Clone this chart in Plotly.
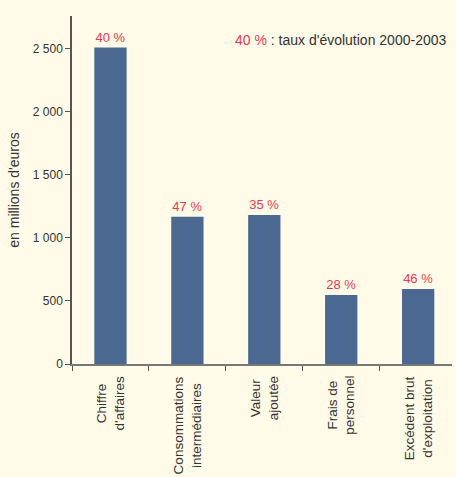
import plotly.graph_objects as go

categories = ["Chiffre d'affaires", "Consommations intermédiaires", "Valeur ajoutée",
              "Frais de personnel", "Excédent brut d'exploitation"]
cat_labels = ["Chiffre<br>d'affaires", "Consommations<br>intermédiaires", "Valeur<br>ajoutée",
              "Frais de<br>personnel", "Excédent brut<br>d'exploitation"]
values = [2510, 1168, 1182, 547, 595]
rates = ["40 %", "47 %", "35 %", "28 %", "46 %"]
ytickvals = [0, 500, 1000, 1500, 2000, 2500]
yticktext = ["0", "500", "1 000", "1 500", "2 000", "2 500"]

BG = "#fffbe8"
BAR = "#4a6890"
RED = "#e8384f"
DARK = "#333333"
FONT = "Arial, Liberation Sans, sans-serif"

fig = go.Figure(go.Bar(
    x=categories, y=values, text=rates, textposition="outside",
    textfont=dict(color=RED, size=13, family=FONT),
    marker=dict(color=BAR, line=dict(width=0)),
    cliponaxis=False, width=0.42,
))

fig.update_layout(
    width=456, height=477,
    margin=dict(l=72, r=4, t=16, b=113),
    paper_bgcolor=BG, plot_bgcolor=BG,
    font=dict(family=FONT, size=12, color=DARK),
    showlegend=False,
)
fig.update_xaxes(
    type="category", range=[-0.5, 4.44],
    tickson="boundaries", ticks="outside", ticklen=5, tickcolor="#555",
    showticklabels=False, showline=True, linecolor="#777", linewidth=1.5,
    showgrid=False,
)
fig.update_yaxes(
    range=[0, 2760], tickvals=ytickvals, ticktext=yticktext,
    ticks="outside", ticklen=5, tickcolor="#555",
    showline=True, linecolor="#555", linewidth=1.5,
    showgrid=False, zeroline=False, tickfont=dict(size=12, color=DARK),
    title=dict(text="en millions d'euros", font=dict(size=14, color=DARK), standoff=10),
)
for cat, lab in zip(categories, cat_labels):
    fig.add_annotation(
        x=cat, y=0, xref="x", yref="y", xanchor="center", yanchor="top",
        yshift=-10, textangle=-90, align="center", showarrow=False,
        text=lab, font=dict(size=13.5, color=DARK, family=FONT),
    )
fig.add_annotation(
    xref="paper", yref="paper", x=0.99, y=0.931, xanchor="right", yanchor="middle",
    showarrow=False,
    text=f"<span style='color:{RED}'>40 %</span> : taux d'évolution 2000-2003",
    font=dict(size=14, color=DARK, family=FONT),
)

fig.write_html("out.html")
